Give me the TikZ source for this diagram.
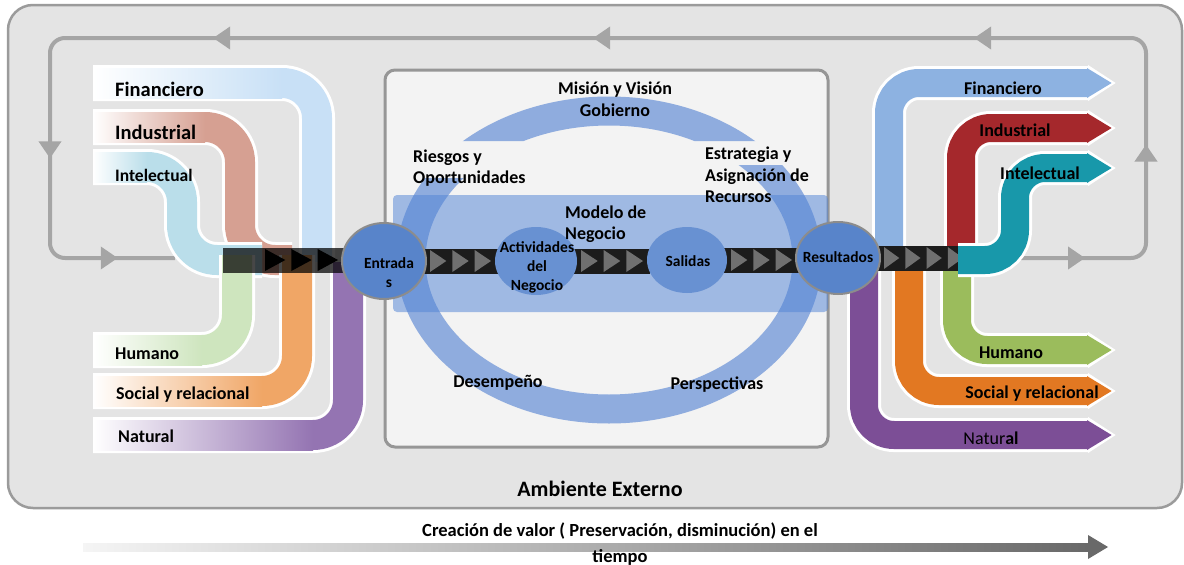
\documentclass[tikz,border=0pt]{standalone}
\usepackage{fontspec}
\setmainfont{Carlito}
\usetikzlibrary{arrows.meta,positioning,calc,shapes.geometric,decorations.markings,backgrounds}

\definecolor{ambfill}{RGB}{228,228,228}
\definecolor{ambline}{RGB}{155,155,155}
\definecolor{orgfill}{RGB}{243,243,243}
\definecolor{orgline}{RGB}{150,150,150}
\definecolor{loopgray}{RGB}{165,165,165}
\definecolor{ringblue}{RGB}{143,172,222}
\definecolor{bandblue}{RGB}{83,133,214}
\definecolor{bubout}{RGB}{88,132,202}
\definecolor{bubin}{RGB}{104,145,210}
\definecolor{bubline}{RGB}{140,140,140}
\definecolor{chvdark}{RGB}{28,28,28}
\definecolor{chvtip}{RGB}{112,112,112}
\definecolor{lfin}{RGB}{200,224,246}
\definecolor{lind}{RGB}{214,160,146}
\definecolor{lint}{RGB}{186,222,234}
\definecolor{lhum}{RGB}{206,229,190}
\definecolor{lsoc}{RGB}{240,166,102}
\definecolor{lnat}{RGB}{148,116,178}
\definecolor{rfin}{RGB}{141,178,225}
\definecolor{rind}{RGB}{165,40,44}
\definecolor{rint}{RGB}{24,152,170}
\definecolor{rhum}{RGB}{155,188,92}
\definecolor{rsoc}{RGB}{226,120,34}
\definecolor{rnat}{RGB}{124,78,150}
\definecolor{timedark}{RGB}{105,105,105}

% capital flowing in: colour, row, column, rest of the bend
\newcommand\lflow[4]{%
\draw[rim](93,#2)--(#3,#2)--#4;
\draw[flow=#1](93,#2)--(#3,#2)--#4;
\shade[left color=white,right color=#1](93,#2-15)rectangle(#3-35,#2+15);}
% capital flowing out: colour, path
\newcommand\rflow[2]{%
\draw[rim,line width=34pt,rounded corners=30pt,shorten >=-4pt,-{Triangle[length=28pt,width=34pt]}]#2;
\draw[flow=#1,line width=28pt,rounded corners=30pt,-{Triangle[length=25pt,width=28pt]}]#2;}
% chevron strip: from, to, tips, strip options, tip options
\newcommand\chev[5]{%
\path[#4] let \p1=(#1),\p2=(#2) in (\x1-4pt,\y1-12.5pt) rectangle (\x2+4pt,\y1+12.5pt);
\foreach \k in {1,...,#3}{
\path[#5] let \p1=(#1),\p2=(#2),\n1={(\x2-\x1)/#3} in
 (\x1+\k*\n1-\n1+3pt,\y1+11pt)--(\x1+\k*\n1-3pt,\y1)--(\x1+\k*\n1-\n1+3pt,\y1-11pt)--cycle;}}

\begin{document}
\begin{tikzpicture}[x=1pt,y=-1pt,font=\bfseries\fontsize{18}{21.5}\selectfont,
amb/.style={draw=ambline,line width=2.5pt,fill=ambfill,rounded corners=25pt,minimum width=1174pt,minimum height=503pt},
org/.style={draw=orgline,line width=3pt,fill=orgfill,rounded corners=10pt,minimum width=443pt,minimum height=377pt},
ring/.style={ringblue,line width=29pt},
band/.style={fill=bandblue,fill opacity=.52,rounded corners=4pt,minimum width=435pt,minimum height=117pt},
bub/.style={ellipse,fill=bubout,inner sep=0,minimum width=84pt,minimum height=76pt,line width=2pt},
txt/.style={inner sep=0,align=center,font=\bfseries\fontsize{15.5}{19}\selectfont},
lbl/.style={inner sep=0,align=left},
big/.style={inner sep=0,font=\bfseries\fontsize{20.5}{24}\selectfont},
rim/.style={white,line width=36pt,rounded corners=35pt},
flow/.style={#1,line width=30pt,rounded corners=35pt},
tri/.tip={Triangle[length=17pt,width=22pt]},
fback/.style={loopgray,line width=4pt,rounded corners=15pt,postaction=decorate,decoration={markings,
 mark=at position 100pt with {\arrow{tri}},mark=at position 268pt with {\arrow{tri}},
 mark=at position 540pt with {\arrow{tri}},mark=at position 921pt with {\arrow{tri}},
 mark=at position 1301pt with {\arrow{tri}},mark=at position 1578pt with {\arrow{tri}},
 mark=at position 1739pt with {\arrow{tri}}}}]
\useasboundingbox (0,0) rectangle (1184,565);
% business model
\node[bub,draw=bubline] (ent) at (384,261) {};
\node[bub,fill=bubin,minimum width=82pt,minimum height=68pt] (act) at (536,261) {};
\node[bub,fill=bubin,minimum width=80pt,minimum height=66pt] (sal) at (687,260) {};
\node[bub,draw=bubline,minimum height=72pt] (res) at (838,258) {};
\begin{scope}[on background layer]
\fill[white] (0,0) rectangle (1184,565);
\node[amb] (amb) at (595,256.5) {};
\coordinate (lpa) at (985,258); \coordinate (lpb) at (175,258);
\draw[fback] (lpa) -- (1146,258) -- (1146,38) -- (50,38) -- (50,258) -- (lpb);
\node[org] (org) at (606.5,258.5) {};
\coordinate (ringc) at (609,260);
\begin{scope}
\clip (0,0) rectangle (1184,141) (0,178) rectangle (609,565) (609,165) rectangle (1184,565);
\draw[ring] (ringc) ellipse [x radius=198,y radius=149];
\end{scope}
\node[band] (mod) at (610.5,253.5) {};
% capitals in
\lflow{lfin}{83}{317}{(317,262)}
\lflow{lind}{127}{240}{(240,260)--(292,260)}
\lflow{lint}{167}{182}{(182,260)--(262,260)}
\lflow{lhum}{350}{237}{(237,255)}
\lflow{lsoc}{391}{297}{(297,255)}
\lflow{lnat}{435}{348}{(348,262)}
% capitals out
\rflow{rfin}{(889,262)--(889,83)--(1112,83)}
\rflow{rind}{(961,262)--(961,128)--(1112,128)}
\rflow{rnat}{(864,262)--(864,435)--(1112,435)}
\rflow{rsoc}{(909,262)--(909,391)--(1112,391)}
\rflow{rhum}{(957,262)--(957,350)--(1112,350)}
% chevrons
\coordinate (lchv) at (227,260); \coordinate (ltip) at (262,260); \coordinate (rchv) at (966,258);
\chev{lchv}{ent.west}{1}{fill=black,fill opacity=.72}{}
\chev{ltip}{ent.west}{3}{}{fill=black}
\chev{ent.east}{act.west}{3}{fill=chvdark}{fill=chvtip}
\chev{act.east}{sal.west}{3}{fill=chvdark}{fill=chvtip}
\chev{sal.east}{res.west}{3}{fill=chvdark}{fill=chvtip}
\chev{res.east}{rchv}{4}{fill=chvdark}{fill=chvtip}
\rflow{rint}{(958,260)--(1015,260)--(1015,168)--(1112,168)}
\end{scope}
\node[txt] (tent) at (389,273) {Entrada\\s};
\node[txt] (tact) at (537,267) {Actividades\\del\\Negocio};
\node[txt] (tsal) at (688,261) {Salidas};
\node[txt] (tres) at (838,257) {Resultados};
% labels
\node[big,anchor=west] (lfint) at (115,89) {Financiero};
\node[big,anchor=west] (lindt) at (115,132) {Industrial};
\node[lbl,anchor=west,font=\bfseries\fontsize{17.5}{21}\selectfont] (lintt) at (115,175) {Intelectual};
\node[lbl,anchor=west] (lhumt) at (115,354) {Humano};
\node[lbl,anchor=west] (lsoct) at (116,395) {Social y relacional};
\node[lbl,anchor=west] (lnatt) at (118,436) {Natural};
\node[lbl] (rfint) at (1003,88) {Financiero};
\node[lbl] (rindt) at (1015,130) {Industrial};
\node[lbl] (rintt) at (1040,173) {Intelectual};
\node[lbl] (rhumt) at (1011,353) {Humano};
\node[lbl] (rsoct) at (1032,394) {Social y relacional};
\node[lbl] (rnatt) at (991,438) {{\mdseries Natur}al};
\node[lbl,align=center] (mision) at (615,99) {Misión y Visión\\Gobierno};
\node[lbl,anchor=west] (riesgo) at (413,168) {Riesgos y\\Oportunidades};
\node[lbl,anchor=west] (estrat) at (705,175) {Estrategia y\\Asignación de\\Recursos};
\node[lbl,anchor=west] (modelo) at (565,224) {Modelo de\\Negocio};
\node[lbl] (desemp) at (498,383) {Desempeño};
\node[lbl] (persp) at (717,385) {Perspectivas};
\node[lbl,font=\bfseries\fontsize{22}{26}\selectfont] (ambt) at (600,489) {Ambiente Externo};
% value over time
\coordinate (tbeg) at (83,547); \coordinate (tend) at (1108,547);
\shade[left color=gray!8,right color=timedark] ($(tbeg)+(0,-4)$) rectangle ($(tend)+(-20,4)$);
\fill[timedark] ($(tend)+(-20,-12)$) -- (tend) -- ($(tend)+(-20,12)$) -- cycle;
\node[lbl,align=center,font=\bfseries\fontsize{18.5}{26}\selectfont] (valor) at (620,544) {Creación de valor ( Preservación, disminución) en el\\tiempo};
\end{tikzpicture}
\end{document}
